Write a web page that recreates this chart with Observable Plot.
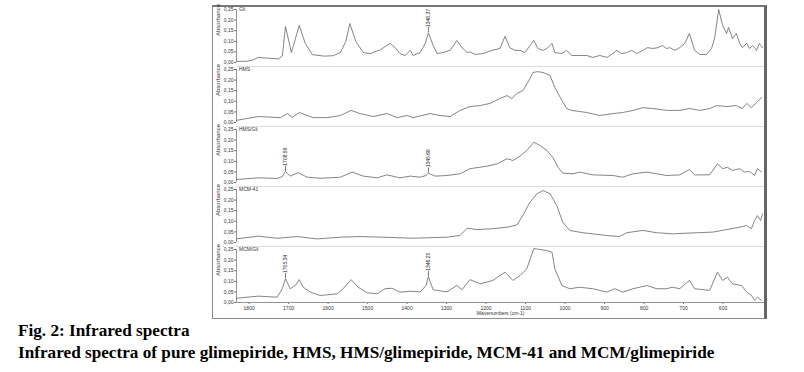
<!DOCTYPE html>
<html><head><meta charset="utf-8">
<script src="https://cdn.jsdelivr.net/npm/d3@7"></script>
<script src="https://cdn.jsdelivr.net/npm/@observablehq/plot@0.6"></script>
<style>
body{margin:0;background:#fff;width:804px;height:372px;overflow:hidden;position:relative;font-family:"Liberation Sans",Arial,sans-serif}
#frame{position:absolute;left:212px;top:5px;width:551px;height:311px;border-left:1px solid #8a8a8a;border-bottom:1px solid #8a8a8a;border-top:2px solid #777;border-right:3px solid #666;}
#chart{position:absolute;left:0;top:0}
#cap{position:absolute;left:18px;top:320px;font-family:"Liberation Serif","Times New Roman",serif;font-weight:bold;font-size:17.2px;line-height:22px;color:#000;white-space:nowrap}
</style></head><body>
<div id="frame"></div>
<div id="chart"></div>
<div id="cap"><div>Fig. 2: Infrared spectra</div><div>Infrared spectra of pure glimepiride, HMS, HMS/glimepiride, MCM-41 and MCM/glimepiride</div></div>
<script>
const panels = ["Gli", "HMS", "HMS/Gli", "MCM-41", "MCM/Gli"];

// [wavenumber cm-1, absorbance]
const gliSpectrum = [[1832,0.005],[1804,0.006],[1790,0.012],[1777,0.024],[1750,0.02],[1726,0.017],[1716,0.03],[1708,0.17],[1693,0.047],[1673,0.175],[1658,0.09],[1640,0.037],[1610,0.03],[1587,0.032],[1569,0.047],[1555,0.1],[1545,0.184],[1530,0.1],[1511,0.047],[1494,0.042],[1468,0.06],[1443,0.09],[1430,0.07],[1418,0.042],[1405,0.033],[1392,0.057],[1385,0.033],[1367,0.047],[1354,0.09],[1346,0.14],[1334,0.08],[1324,0.042],[1309,0.047],[1291,0.057],[1274,0.104],[1261,0.07],[1248,0.047],[1241,0.05],[1228,0.038],[1208,0.042],[1185,0.057],[1165,0.066],[1152,0.123],[1140,0.07],[1127,0.057],[1114,0.057],[1102,0.047],[1079,0.104],[1069,0.066],[1056,0.057],[1046,0.066],[1033,0.09],[1026,0.047],[1008,0.042],[996,0.057],[983,0.033],[963,0.033],[945,0.033],[930,0.024],[912,0.033],[894,0.024],[879,0.042],[869,0.057],[856,0.042],[844,0.047],[831,0.057],[819,0.042],[803,0.057],[791,0.07],[778,0.066],[765,0.07],[753,0.08],[743,0.066],[735,0.07],[722,0.057],[710,0.07],[697,0.09],[685,0.137],[672,0.057],[659,0.038],[642,0.038],[629,0.066],[621,0.118],[611,0.25],[601,0.175],[591,0.137],[586,0.165],[576,0.113],[566,0.137],[558,0.09],[551,0.07],[540,0.09],[533,0.066],[525,0.08],[515,0.057],[508,0.09],[500,0.07]];

const hmsSpectrum = [[1832,0.01],[1777,0.028],[1721,0.023],[1703,0.042],[1691,0.025],[1673,0.047],[1638,0.023],[1602,0.023],[1569,0.033],[1542,0.057],[1519,0.042],[1486,0.028],[1451,0.042],[1425,0.023],[1400,0.033],[1385,0.023],[1342,0.042],[1317,0.033],[1291,0.028],[1266,0.057],[1241,0.075],[1215,0.08],[1190,0.09],[1165,0.113],[1147,0.127],[1135,0.113],[1122,0.137],[1107,0.15],[1094,0.19],[1081,0.236],[1069,0.24],[1056,0.236],[1038,0.222],[1026,0.165],[1008,0.104],[996,0.066],[983,0.057],[945,0.047],[912,0.033],[879,0.042],[854,0.047],[828,0.057],[803,0.07],[778,0.066],[743,0.057],[710,0.057],[685,0.066],[659,0.057],[634,0.066],[616,0.08],[591,0.075],[566,0.08],[551,0.066],[540,0.09],[528,0.07],[515,0.094],[502,0.118]];

const hmsGliSpectrum = [[1832,0.014],[1777,0.022],[1729,0.019],[1716,0.028],[1708,0.052],[1696,0.03],[1676,0.046],[1653,0.025],[1620,0.02],[1569,0.025],[1539,0.049],[1511,0.03],[1476,0.022],[1451,0.036],[1418,0.022],[1392,0.03],[1367,0.025],[1352,0.033],[1346,0.044],[1329,0.03],[1299,0.033],[1266,0.041],[1241,0.065],[1198,0.077],[1172,0.088],[1147,0.112],[1132,0.104],[1114,0.124],[1097,0.151],[1079,0.19],[1064,0.175],[1046,0.151],[1031,0.119],[1018,0.072],[1006,0.044],[980,0.041],[963,0.049],[930,0.036],[879,0.033],[854,0.025],[828,0.041],[793,0.049],[768,0.041],[743,0.033],[710,0.036],[685,0.061],[672,0.036],[634,0.036],[614,0.088],[601,0.065],[589,0.072],[576,0.057],[558,0.065],[546,0.049],[533,0.052],[520,0.033],[513,0.065],[502,0.049]];

const mcm41Spectrum = [[1832,0.017],[1777,0.03],[1729,0.02],[1678,0.028],[1628,0.017],[1569,0.025],[1519,0.028],[1461,0.025],[1385,0.02],[1299,0.025],[1266,0.033],[1248,0.067],[1223,0.061],[1183,0.065],[1147,0.072],[1122,0.083],[1107,0.127],[1089,0.19],[1071,0.23],[1056,0.245],[1038,0.23],[1021,0.175],[1006,0.096],[988,0.057],[955,0.046],[894,0.033],[862,0.028],[844,0.046],[803,0.057],[768,0.046],[728,0.041],[667,0.046],[626,0.049],[591,0.061],[558,0.072],[540,0.08],[528,0.065],[520,0.104],[513,0.127],[505,0.104],[500,0.135]];

const mcmGliSpectrum = [[1832,0.02],[1777,0.03],[1729,0.025],[1716,0.065],[1708,0.112],[1696,0.065],[1683,0.08],[1673,0.108],[1663,0.072],[1645,0.049],[1620,0.033],[1577,0.041],[1562,0.065],[1542,0.108],[1524,0.072],[1501,0.046],[1476,0.041],[1456,0.065],[1438,0.067],[1418,0.049],[1392,0.053],[1367,0.05],[1352,0.08],[1346,0.122],[1334,0.06],[1299,0.05],[1274,0.08],[1261,0.06],[1241,0.108],[1215,0.088],[1183,0.104],[1152,0.143],[1132,0.104],[1114,0.127],[1097,0.159],[1079,0.255],[1064,0.25],[1046,0.245],[1033,0.237],[1026,0.159],[1008,0.08],[988,0.065],[963,0.072],[930,0.065],[894,0.049],[874,0.065],[854,0.049],[828,0.065],[793,0.08],[768,0.065],[743,0.065],[728,0.072],[710,0.065],[685,0.104],[672,0.065],[634,0.057],[614,0.143],[601,0.104],[589,0.12],[576,0.088],[553,0.08],[540,0.049],[528,0.033],[520,0.01],[513,0.025],[502,0.01]];

const peakLabels = [
  {panel: "Gli", wn: 1346, abs: 0.14, label: "1346.37"},
  {panel: "HMS/Gli", wn: 1708, abs: 0.052, label: "1708.59"},
  {panel: "HMS/Gli", wn: 1346, abs: 0.044, label: "1345.66"},
  {panel: "MCM/Gli", wn: 1708, abs: 0.112, label: "1705.34"},
  {panel: "MCM/Gli", wn: 1346, abs: 0.122, label: "1346.25"}
];

const yTicks = [0, 0.05, 0.10, 0.15, 0.20, 0.25];
const xTicks = [1800, 1700, 1600, 1500, 1400, 1300, 1200, 1100, 1000, 900, 800, 700, 600];
const xMinor = d3.range(520, 1832, 20);
const xDomain = [1832, 495];
const xTitle = "Wavenumbers (cm-1)";
const yTitle = "Absorbance";

const spectra = [gliSpectrum, hmsSpectrum, hmsGliSpectrum, mcm41Spectrum, mcmGliSpectrum];
const rows = panels.flatMap((p, i) => spectra[i].map(([wn, abs]) => ({panel: p, wn, abs})));
const comma = d => d3.format(".2f")(d).replace(".", ",");
const lastPanel = panels[panels.length - 1];

const chart = Plot.plot({
  width: 804, height: 320,
  marginLeft: 236, marginRight: 40, marginTop: 9, marginBottom: 18,
  style: {fontFamily: "Liberation Sans, Arial, sans-serif", fontSize: "5px", color: "#333", background: "transparent", overflow: "visible"},
  x: {domain: xDomain},
  y: {domain: [0, 0.25]},
  fy: {domain: panels, axis: null, paddingInner: 0.117, paddingOuter: 0, round: false},
  marks: [
    Plot.ruleY(panels.slice(0, -1), {fy: d => d, y: () => -0.019, stroke: "#dcdcdc", strokeWidth: 1}),
    Plot.ruleX(panels, {fy: d => d, x: () => xDomain[0], stroke: "#777", strokeWidth: 0.8}),
    Plot.ruleY([lastPanel], {fy: d => d, y: () => 0, stroke: "#777", strokeWidth: 0.8}),
    Plot.axisY(yTicks, {tickSize: 2, tickPadding: 1, tickFormat: comma, label: null, stroke: "#777", fill: "#333"}),
    Plot.axisX(xTicks, {tickSize: 2, tickPadding: 1.5, tickFormat: d => String(d), label: null, stroke: "#777", fill: "#333"}),
    Plot.axisX(xMinor, {tickSize: 1, text: null, label: null, stroke: "#999"}),
    Plot.lineY(rows, {x: "wn", y: "abs", fy: "panel", stroke: "#5c5c5c", strokeWidth: 0.75}),
    Plot.ruleX(peakLabels, {x: "wn", y1: "abs", y2: d => d.abs + 0.025, fy: "panel", stroke: "#333", strokeWidth: 0.7}),
    Plot.text(peakLabels, {x: "wn", y: d => d.abs + 0.025, fy: "panel", text: "label", rotate: -90, textAnchor: "start", dx: 0, dy: -0.5, fill: "#222", fontSize: 5}),
    Plot.text(panels, {fy: d => d, text: d => d, frameAnchor: "top-left", lineAnchor: "middle", textAnchor: "start", dx: 2.5, fill: "#333", fontSize: 5}),
    Plot.text(panels, {fy: d => d, text: () => yTitle, frameAnchor: "left", rotate: -90, dx: -18, fill: "#333", fontSize: 6}),
    Plot.text([lastPanel], {fy: d => d, text: () => xTitle, frameAnchor: "bottom", dy: 12, fill: "#333", fontSize: 5})
  ]
});
document.getElementById("chart").append(chart);
</script>
</body></html>
